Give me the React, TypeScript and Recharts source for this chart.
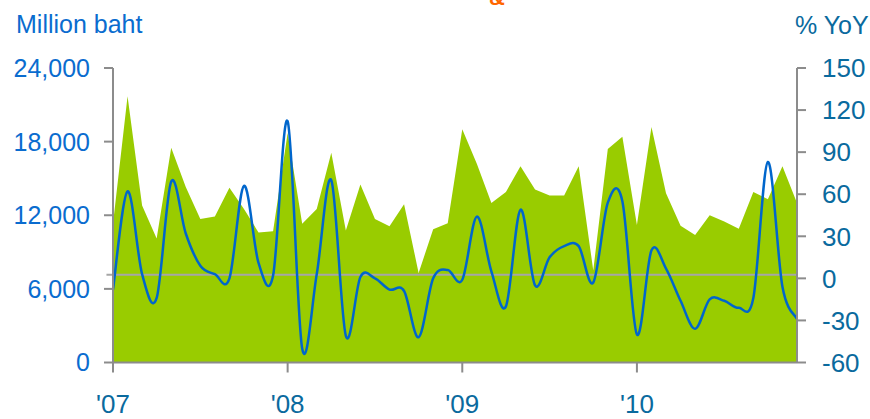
import React from "react";
import {
  ComposedChart,
  Area,
  Line,
  XAxis,
  YAxis,
  ReferenceLine,
} from "recharts";

const months = [
  "Jan-07", "Feb-07", "Mar-07", "Apr-07", "May-07", "Jun-07", "Jul-07", "Aug-07", "Sep-07", "Oct-07", "Nov-07", "Dec-07",
  "Jan-08", "Feb-08", "Mar-08", "Apr-08", "May-08", "Jun-08", "Jul-08", "Aug-08", "Sep-08", "Oct-08", "Nov-08", "Dec-08",
  "Jan-09", "Feb-09", "Mar-09", "Apr-09", "May-09", "Jun-09", "Jul-09", "Aug-09", "Sep-09", "Oct-09", "Nov-09", "Dec-09",
  "Jan-10", "Feb-10", "Mar-10", "Apr-10", "May-10", "Jun-10", "Jul-10", "Aug-10", "Sep-10", "Oct-10", "Nov-10", "Dec-10",
];

// Million baht (green area, left axis)
const valueMB = [
  11300, 21700, 12800, 10100, 17500, 14300, 11700, 11900, 14250, 12500, 10600, 10700,
  18700, 11300, 12500, 17100, 10750, 14500, 11700, 11100, 12900, 7300, 10850, 11350,
  19000, 16200, 13000, 13900, 16000, 14100, 13600, 13600, 16000, 7500, 17400, 18400,
  11200, 19200, 13800, 11150, 10400, 12000, 11500, 10900, 13900, 13300, 16000, 13000,
];

// % YoY (blue line, right axis)
const yoyPct = [
  -8, 62, 3, -14, 69, 32, 9, 3, 0, 66, 11, 2,
  112, -50, 3, 70, -41, 1, 0, -8, -9, -42, 0, 6,
  -1, 44, 5, -20, 49, -5, 15, 23, 23, -3, 54, 55,
  -40, 20, 7, -16, -36, -15, -16, -21, -14, 83, -6, -29,
];

const yearLabels = ["'07", "'08", "'09", "'10"];
const yearTickIdx = [0, 12, 24, 36];
const leftTicks = [0, 6000, 12000, 18000, 24000];
const rightTicks = [-60, -30, 0, 30, 60, 90, 120, 150];
const refLevel = 2.6;
const refStart = -0.45;
const refEnd = 47;

const data = months.map((m, i) => ({ i, m, v: valueMB[i], y: yoyPct[i] }));

// Excel-like smoothed line (uniform Catmull-Rom)
function smoothCurve(context: any) {
  let pts: number[][] = [];
  return {
    areaStart() {},
    areaEnd() {},
    lineStart() {
      pts = [];
    },
    point(x: number, y: number) {
      pts.push([+x, +y]);
    },
    lineEnd() {
      const n = pts.length;
      if (!n) return;
      context.moveTo(pts[0][0], pts[0][1]);
      for (let k = 0; k < n - 1; k++) {
        const p0 = pts[k - 1] || pts[k];
        const p1 = pts[k];
        const p2 = pts[k + 1];
        const p3 = pts[k + 2] || pts[k + 1];
        const c1x = p1[0] + (p2[0] - p0[0]) / 6;
        const c1y = p1[1] + (p2[1] - p0[1]) / 6;
        const c2x = p2[0] - (p3[0] - p1[0]) / 6;
        const c2y = p2[1] - (p3[1] - p1[1]) / 6;
        context.bezierCurveTo(c1x, c1y, c2x, c2y, p2[0], p2[1]);
      }
    },
  };
}

const FONT = "'Liberation Sans', Arial, sans-serif";
const AXIS = "#8c8c8c";
const LEFT_C = "#0a6ccf";
const RIGHT_C = "#0a6a9e";

export default function App() {
  return (
    <div style={{ position: "absolute", left: 0, top: 0, width: 870, height: 419, background: "#fff", overflow: "hidden" }}>
      <ComposedChart
        width={870}
        height={419}
        data={data}
        margin={{ top: 68, right: 0, bottom: 0, left: 0 }}
        style={{ fontFamily: FONT }}
      >
        <XAxis
          dataKey="i"
          type="number"
          domain={[0, 47]}
          ticks={yearTickIdx}
          tickFormatter={(v: number) => yearLabels[yearTickIdx.indexOf(v)]}
          height={56.5}
          stroke={AXIS}
          strokeWidth={2}
          tickSize={10}
          tickMargin={22}
          tick={{ fill: RIGHT_C, fontSize: 26 }}
          interval={0}
        />
        <YAxis
          yAxisId="left"
          orientation="left"
          width={113}
          domain={[0, 24000]}
          ticks={leftTicks}
          tickFormatter={(v: number) => v.toLocaleString("en-US")}
          stroke={AXIS}
          strokeWidth={2}
          tickSize={9}
          tickMargin={14}
          tick={{ fill: LEFT_C, fontSize: 25 }}
          interval={0}
        />
        <YAxis
          yAxisId="right"
          orientation="right"
          width={73}
          domain={[-60, 150]}
          ticks={rightTicks}
          stroke={AXIS}
          strokeWidth={2}
          tickSize={9}
          tickMargin={16}
          tick={{ fill: RIGHT_C, fontSize: 26 }}
          interval={0}
        />
        <Area
          yAxisId="left"
          dataKey="v"
          type="linear"
          fill="#99cc00"
          fillOpacity={1}
          stroke="none"
          isAnimationActive={false}
          dot={false}
          activeDot={false}
        />
        <ReferenceLine
          yAxisId="right"
          segment={[{ x: refStart, y: refLevel }, { x: refEnd, y: refLevel }]}
          ifOverflow="visible"
          stroke="#a6a6a6"
          strokeWidth={2}
        />
        <Line
          yAxisId="right"
          dataKey="y"
          type={smoothCurve as any}
          stroke="#0066cc"
          strokeWidth={2.5}
          dot={false}
          activeDot={false}
          isAnimationActive={false}
        />
      </ComposedChart>
      <svg
        width={870}
        height={419}
        style={{ position: "absolute", left: 0, top: 0, pointerEvents: "none", fontFamily: FONT }}
      >
        <text x={16} y={33} fontSize={25} fill={LEFT_C}>Million baht</text>
        <text x={795} y={34} fontSize={25} fill={RIGHT_C}>% YoY</text>
        <text x={497} y={5} fontSize={22} fill="#ff6600" textAnchor="middle" fontWeight="bold">&amp;</text>
      </svg>
    </div>
  );
}
